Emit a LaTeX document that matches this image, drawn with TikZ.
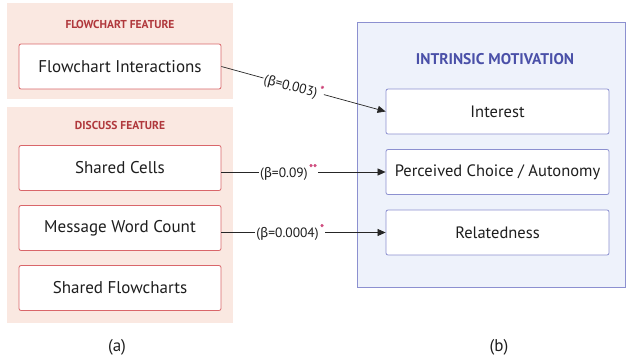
\documentclass[tikz,border=0pt]{standalone}
\usepackage{fontspec}
\setmainfont{PT Sans}
\newfontfamily\grk{Fira Sans}
\usetikzlibrary{arrows.meta}
\definecolor{lpfill}{HTML}{FAE8E1}
\definecolor{lbord}{HTML}{D9666A}
\definecolor{ltitle}{HTML}{B0383C}
\definecolor{rpfill}{HTML}{EEF2FB}
\definecolor{rbord}{HTML}{8C90D0}
\definecolor{rtitle}{HTML}{4A50A8}
\definecolor{star}{HTML}{C8306A}
\definecolor{ink}{HTML}{1E1E1E}
\tikzset{
  panelL/.style={fill=lpfill, draw=none},
  panelR/.style={fill=rpfill, draw=rbord, line width=0.8pt},
  featbox/.style={draw=lbord, fill=white, text=ink, rounded corners=2pt, line width=0.8pt, minimum width=202pt, minimum height=45pt, font=\fontsize{17}{19}\selectfont},
  motbox/.style={draw=rbord, fill=white, text=ink, rounded corners=2pt, line width=0.8pt, minimum width=223pt, minimum height=45pt, font=\fontsize{16.5}{19}\selectfont},
  ltit/.style={text=ltitle, font=\bfseries\fontsize{11.5}{13}\selectfont},
  rtit/.style={text=rtitle, font=\bfseries\fontsize{15.5}{17}\selectfont},
  conn/.style={draw=black!85, line width=0.7pt, -{Triangle[length=8pt,width=7pt]}},
  blab/.style={fill=white, text=ink, inner sep=1pt, font=\fontsize{13.5}{15}\selectfont},
  captext/.style={text=ink, font=\fontsize{17}{19}\selectfont}
}
\newcommand{\redstar}[1]{\hspace{1.5pt}\raisebox{0.75ex}{\textcolor{star}{\fontsize{11}{12}\selectfont\bfseries #1}}}
\newcommand{\bet}{{\grk β}}
\begin{document}
\begin{tikzpicture}[x=1pt,y=-1pt]
\useasboundingbox (0,0) rectangle (627,360);
% left panels
\path[panelL] (7,3) rectangle (233,99);
\path[panelL] (7,107) rectangle (233,323);
\node[ltit] (t1) at (120,24) {FLOWCHART FEATURE};
\node[ltit] (t2) at (120,125) {DISCUSS FEATURE};
\node[featbox] (fi) at (120,66.5) {Flowchart Interactions};
\node[featbox] (sc) at (120,168) {Shared Cells};
\node[featbox] (mw) at (120,228) {Message Word Count};
\node[featbox] (sf) at (120,288) {Shared Flowcharts};
% right panel
\path[panelR] (357,22) rectangle (625,287);
\node[rtit] (t3) at (495,59) {INTRINSIC MOTIVATION};
\node[motbox] (in) at (497.5,111.5) {Interest};
\node[motbox] (pc) at (497.5,172) {Perceived Choice / Autonomy};
\node[motbox] (re) at (497.5,232.5) {Relatedness};
% connectors
\draw[conn] (fi.east) -- (in.west) node[blab, pos=0.44, sloped] {(\bet=0.003)\redstar{*}};
\draw[conn] (sc.east |- pc.west) -- (pc.west) node[blab, pos=0.41] {(\bet=0.09)\redstar{**}};
\draw[conn] (mw.east |- re.west) -- (re.west) node[blab, pos=0.42] {(\bet=0.0004)\redstar{*}};
% captions
\node[captext] (a) at (117,347) {(a)};
\node[captext] (b) at (499,347) {(b)};
\end{tikzpicture}
\end{document}
